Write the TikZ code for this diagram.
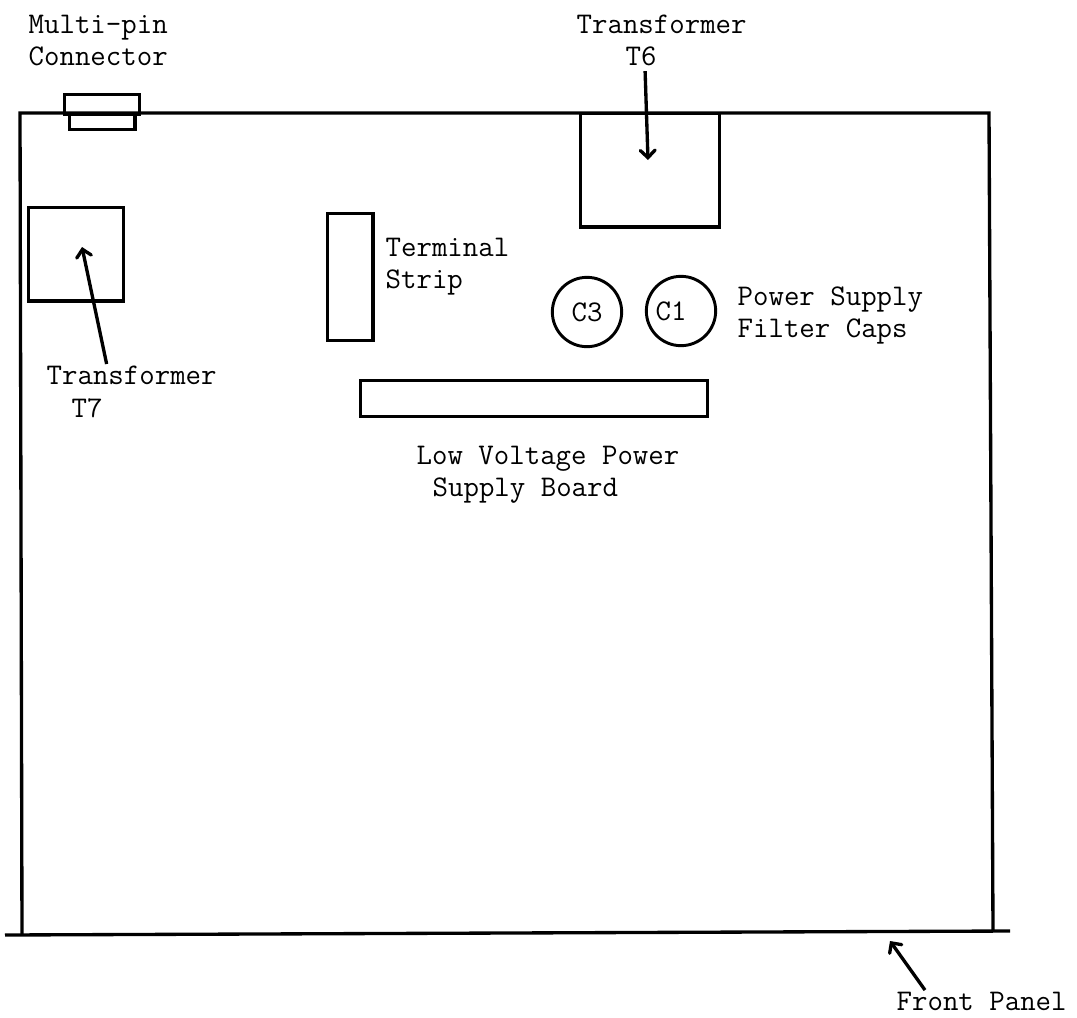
\documentclass[tikz,border=0pt]{standalone}
\usetikzlibrary{arrows,positioning}

\begin{document}
\begin{tikzpicture}[x=0.75pt,y=-0.75pt,>=angle 90,line width=2.5pt,
  part node/.style={rectangle,draw,inner sep=0pt,anchor=north west},
  cap node/.style={circle,draw,line width=2.2pt,inner sep=0pt,minimum size=52pt,font=\ttfamily\fontsize{22.5}{24}\selectfont},
  tar node/.style={font=\ttfamily\fontsize{22.5}{24}\selectfont,align=left,anchor=west,inner sep=0pt}]

  \useasboundingbox (0,0) rectangle (1077,1017);

  \coordinate (BL) at (5,935);
  \coordinate (BR) at (1010,931);
  \coordinate (CL) at (22,935);
  \coordinate (CR) at (993,931);
  \coordinate (TL) at (20,113);
  \coordinate (TR) at (989,113);

  \draw (CL) -- (TL) -- (TR) -- (CR);
  \draw (BL) -- (BR);

  \node[part node,minimum width=56pt,minimum height=15pt] (P) at (63,93) {};
  \node[part node,minimum width=49pt,minimum height=11pt] (S) at (68,113) {};
  \node[part node,minimum width=104pt,minimum height=85pt] (T6) at (579,112) {};
  \node[part node,minimum width=71pt,minimum height=70pt] (T7) at (27,206) {};
  \node[part node,minimum width=34pt,minimum height=95pt] (TS) at (326,212) {};
  \node[part node,minimum width=260pt,minimum height=27pt] (B) at (359,379) {};
  \node[cap node] (C3) at (587,312) {C3};
  \node[cap node] (C1) at (681,311) {C1\hspace*{15pt}};

  \node[tar node] (LM) at (27,41) {Multi-pin\\Connector};
  \node[tar node] (L6) at (575,24) {Transformer};
  \node[tar node] (L6b) at (624,56) {T6};
  \node[tar node] (L7) at (45,375) {Transformer};
  \node[tar node] (L7b) at (70,408) {T7};
  \node[tar node] (LS) at (384,267) {Terminal\\Strip};
  \node[tar node] (LF) at (736,315) {Power Supply\\Filter Caps};
  \node[tar node] (LB) at (415,475) {Low Voltage Power\\\hspace*{12pt}Supply Board};
  \node[tar node] (LN) at (895,1001) {Front Panel};

  \coordinate (A6) at (648,160);
  \coordinate (A7) at (82,247);
  \coordinate (AF) at (890,941);

  \draw[->] (L6b.south) ++(4,4) -- (A6);
  \draw[->] (L7.north) ++(-25,0) -- (A7);
  \draw[->] (LN.north west) ++(30,0) -- (AF);
\end{tikzpicture}
\end{document}
